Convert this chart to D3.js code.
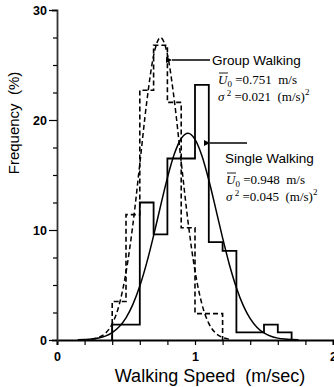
<!DOCTYPE html>
<html>
<head>
<meta charset="utf-8">
<script src="https://cdn.jsdelivr.net/npm/d3@7"></script>
<style>
  body { margin: 0; background: #fff; }
  svg { display: block; }
  text { white-space: pre; }
  .tick text { font-family: "Liberation Sans", Arial, sans-serif; font-weight: bold; font-size: 12.5px; fill: #000; }
  .note { font-family: "Liberation Serif", "Times New Roman", serif; font-size: 13px; }
  .lab { font-family: "Liberation Sans", Arial, sans-serif; }
</style>
</head>
<body>
<div id="chart"></div>
<script>
const width = 334
const height = 387

// histogramas (bins de 0.1 m/s)
const singleEdges = [0.4, 0.5, 0.6, 0.7, 0.8, 0.9, 1.0, 1.1, 1.2, 1.3, 1.4, 1.5, 1.6, 1.7]
const singleFreq = [1.4, 1.4, 12.5, 9.6, 16.5, 16.5, 23.2, 8.9, 8.1, 0.7, 0.7, 1.4, 0.7]
const groupEdges = [0.4, 0.5, 0.6, 0.7, 0.8, 0.9, 1.0, 1.1, 1.2]
const groupFreq = [3.5, 11.4, 22.7, 26.8, 21.6, 10.2, 2.4, 2.4]

// curvas ajustadas
const singleCurveX = [0.15, 0.2, 0.25, 0.3, 0.35, 0.4, 0.45, 0.5, 0.55, 0.6, 0.65, 0.7, 0.75, 0.8, 0.85, 0.9, 0.95, 1.0, 1.05, 1.1, 1.15, 1.2, 1.25, 1.3, 1.35, 1.4, 1.45, 1.5, 1.55, 1.6, 1.65, 1.7, 1.75]
const singleCurveY = [0.02, 0.04, 0.08, 0.18, 0.35, 0.67, 1.2, 2.02, 3.24, 4.9, 7.01, 9.49, 12.16, 14.74, 16.9, 18.32, 18.8, 18.24, 16.75, 14.54, 11.95, 9.28, 6.82, 4.75, 3.12, 1.94, 1.14, 0.64, 0.34, 0.17, 0.08, 0.04, 0.02]
const groupCurveX = [0.25, 0.3, 0.35, 0.4, 0.45, 0.5, 0.55, 0.6, 0.65, 0.7, 0.75, 0.8, 0.85, 0.9, 0.95, 1.0, 1.05, 1.1, 1.15, 1.2, 1.25]
const groupCurveY = [0.07, 0.22, 0.6, 1.46, 3.18, 6.14, 10.5, 16.0, 21.6, 25.85, 27.5, 25.97, 21.8, 16.2, 10.7, 6.28, 3.27, 1.51, 0.62, 0.23, 0.07]

const xTicks = [0, 0.2, 0.4, 0.6, 0.8, 1, 1.2, 1.4, 1.6, 1.8, 2]
const yTicks = [0, 2.5, 5, 7.5, 10, 12.5, 15, 17.5, 20, 22.5, 25, 27.5, 30]

const svg = d3.select("div#chart")
    .append("svg")
    .attr("width", width)
    .attr("height", height)

const x = d3.scaleLinear().domain([0, 2]).range([57, 333])
const y = d3.scaleLinear().domain([0, 30]).range([340, 10])

// ejes
const xAxis = d3.axisBottom(x).tickValues(xTicks).tickSize(5).tickPadding(6)
    .tickFormat(d => (d === 0 || d === 1 || d === 2) ? d : "")
const yAxis = d3.axisLeft(y).tickValues(yTicks).tickSize(5).tickPadding(4)
    .tickFormat(d => d % 10 === 0 ? d : "")

const gx = svg.append("g").attr("transform", `translate(0,${y(0)})`).call(xAxis)
gx.select(".domain").attr("stroke-width", 2)
gx.selectAll(".tick line").attr("stroke-width", 1.2)
gx.selectAll(".tick text").attr("dy", "0.8em")

const gy = svg.append("g").attr("transform", `translate(${x(0)},0)`).call(yAxis)
gy.select(".domain").attr("stroke-width", 1.8).attr("stroke", "#333")
gy.selectAll(".tick line").attr("stroke-width", 1.2)
    .attr("x2", d => d % 10 === 0 ? -8 : -4)
gy.selectAll(".tick text").attr("x", -10)

// histograma -> puntos para curveStepAfter
function stepPoints(edges, vals) {
    const pts = [[edges[0], 0]]
    vals.forEach((v, i) => pts.push([edges[i], v]))
    pts.push([edges[edges.length - 1], 0])
    return pts
}

const stepLine = d3.line().x(d => x(d[0])).y(d => y(d[1])).curve(d3.curveStepAfter)
const smooth = d3.line().x(d => x(d[0])).y(d => y(d[1])).curve(d3.curveMonotoneX)

const plot = svg.append("g").attr("fill", "none").attr("stroke", "#000")

plot.append("path")
    .attr("d", stepLine(stepPoints(singleEdges, singleFreq)))
    .attr("stroke-width", 1.8)

plot.append("path")
    .attr("d", stepLine(stepPoints(groupEdges, groupFreq)))
    .attr("stroke-width", 1.6)
    .attr("stroke-dasharray", "5,3")

plot.append("path")
    .attr("d", smooth(d3.zip(singleCurveX, singleCurveY)))
    .attr("stroke-width", 1.5)

plot.append("path")
    .attr("d", smooth(d3.zip(groupCurveX, groupCurveY)))
    .attr("stroke-width", 1.5)
    .attr("stroke-dasharray", "5,3")

// flechas
svg.append("defs").append("marker")
    .attr("id", "head")
    .attr("viewBox", "0 0 10 10")
    .attr("refX", 0).attr("refY", 5)
    .attr("markerWidth", 9).attr("markerHeight", 6)
    .attr("markerUnits", "userSpaceOnUse")
    .attr("orient", "auto")
    .append("path").attr("d", "M10,0 L0,5 L10,10 Z").attr("fill", "#000")

function arrow(x1, x2, yy) {
    svg.append("line")
        .attr("x1", x2).attr("y1", yy).attr("x2", x1).attr("y2", yy)
        .attr("stroke", "#000").attr("stroke-width", 1.3)
        .attr("marker-end", "url(#head)")
}
arrow(172, 210, 60)
arrow(210, 247, 143)

// textos
svg.append("text").attr("class", "lab").attr("x", 212).attr("y", 65)
    .attr("font-size", 13.5).text("Group Walking")
svg.append("text").attr("class", "lab").attr("x", 225).attr("y", 163)
    .attr("font-size", 13.5).text("Single Walking")

function meanLine(xx, yy, val) {
    const t = svg.append("text").attr("class", "note").attr("x", xx).attr("y", yy)
    t.append("tspan").attr("font-style", "italic").text("U")
    t.append("tspan").attr("font-size", 9).attr("dy", 3).text("0")
    t.append("tspan").attr("dy", -3).text(" =" + val + "  m/s")
    // barra sobre la U
    svg.append("line").attr("x1", xx + 1).attr("x2", xx + 10)
        .attr("y1", yy - 11).attr("y2", yy - 11)
        .attr("stroke", "#000").attr("stroke-width", 0.9)
}
function varLine(xx, yy, val) {
    const t = svg.append("text").attr("class", "note").attr("x", xx).attr("y", yy)
    t.append("tspan").attr("font-style", "italic").text("σ")
    t.append("tspan").attr("font-size", 9).attr("dy", -5).text(" 2")
    t.append("tspan").attr("dy", 5).text(" =" + val + "  (m/s)")
    t.append("tspan").attr("font-size", 9).attr("dy", -6).text("2")
}
meanLine(218, 84, "0.751")
varLine(218, 101, "0.021")
meanLine(226, 184, "0.948")
varLine(226, 201, "0.045")

// titulos de ejes
svg.append("text").attr("class", "lab")
    .attr("transform", "translate(19,123) rotate(-90)")
    .attr("text-anchor", "middle").attr("font-size", 15)
    .text("Frequency  (%)")
svg.append("text").attr("class", "lab")
    .attr("x", 210).attr("y", 382)
    .attr("text-anchor", "middle").attr("font-size", 18)
    .text("Walking Speed  (m/sec)")
</script>
</body>
</html>
